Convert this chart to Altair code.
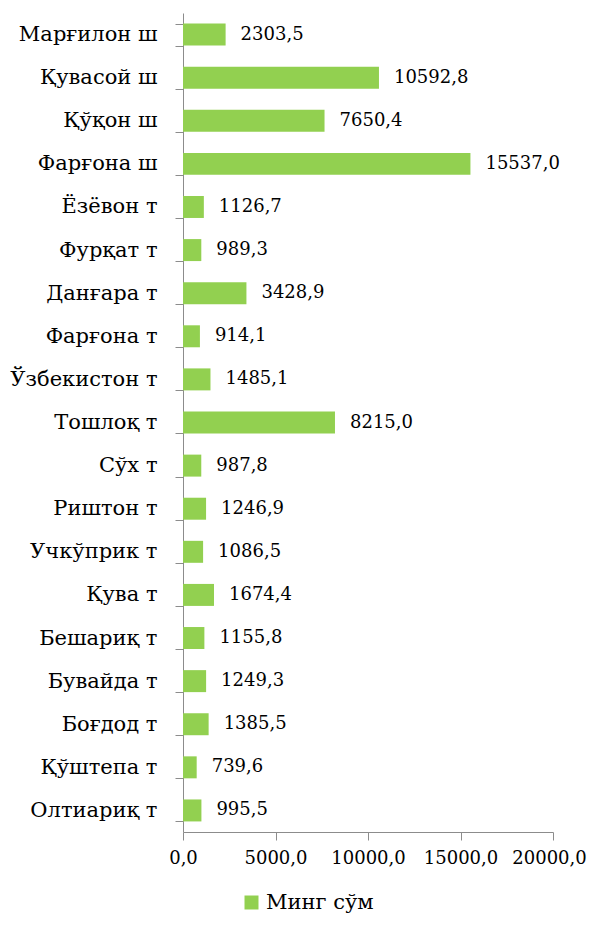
import altair as alt
import pandas as pd

categories = ["Марғилон ш", "Қувасой ш", "Қўқон ш", "Фарғона ш", "Ёзёвон т",
              "Фурқат т", "Данғара т", "Фарғона т", "Ўзбекистон т", "Тошлоқ т",
              "Сўх т", "Риштон т", "Учкўприк т", "Қува т", "Бешариқ т",
              "Бувайда т", "Боғдод т", "Қўштепа т", "Олтиариқ т"]
values = [2303.5, 10592.8, 7650.4, 15537.0, 1126.7,
          989.3, 3428.9, 914.1, 1485.1, 8215.0,
          987.8, 1246.9, 1086.5, 1674.4, 1155.8,
          1249.3, 1385.5, 739.6, 995.5]
series_name = "Минг сўм"
x_ticks = [0, 5000, 10000, 15000, 20000]

df = pd.DataFrame({
    "cat": categories,
    "val": values,
    "label": [f"{v:.1f}".replace(".", ",") for v in values],
    "series": series_name,
})

FONT = "DejaVu Serif"
FS_CAT = 21
FS_NUM = 18
AXC = "#8c8c8c"

y = alt.Y("cat:N", sort=categories, title=None,
          scale=alt.Scale(paddingInner=0.49, paddingOuter=0.245),
          axis=alt.Axis(labelFont=FONT, labelFontSize=FS_CAT, labelColor="black",
                        labelPadding=18, tickSize=8, tickBand="extent",
                        domainColor=AXC, tickColor=AXC, labelLimit=300))
x = alt.X("val:Q", title=None,
          scale=alt.Scale(domain=[0, 20000], nice=False),
          axis=alt.Axis(values=x_ticks, grid=False, labelFont=FONT, labelFontSize=FS_NUM,
                        labelColor="black", tickSize=8, labelPadding=9,
                        labelOverlap=False, labelBound=False, labelFlush=False,
                        labelOffset={"condition": {"test": "datum.value >= 20000", "value": -4},
                                     "value": 0},
                        domainColor=AXC, tickColor=AXC,
                        labelExpr="replace(format(datum.value, '.1f'), '.', ',')"))

bars = alt.Chart(df).mark_bar(color="#92D050").encode(
    x=x, y=y,
    color=alt.Color("series:N", scale=alt.Scale(range=["#92D050"]),
                    legend=alt.Legend(title=None, orient="none", legendX=58, legendY=879,
                                      symbolType="square", symbolSize=196,
                                      symbolStrokeWidth=0,
                                      labelFont=FONT, labelFontSize=FS_CAT, labelColor="black")),
)
text = alt.Chart(df).mark_text(align="left", baseline="middle", dx=15,
                               font=FONT, fontSize=FS_NUM, color="black").encode(
    x="val:Q", y=alt.Y("cat:N", sort=categories), text="label:N")

chart = alt.layer(bars, text).properties(
    width=370, height=819,
    autosize=alt.AutoSizeParams(type="none"),
    padding={"left": 175, "top": 5, "right": 34, "bottom": 85},
).configure_view(stroke=None)

chart.save("out.html", embed_options={"renderer": "svg", "actions": False})
